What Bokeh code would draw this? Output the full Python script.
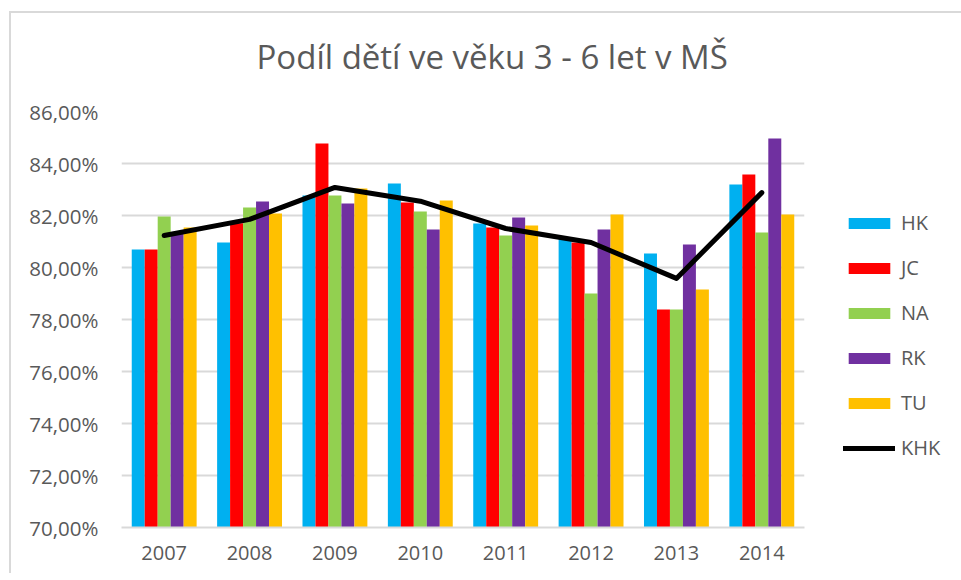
from bokeh.plotting import figure
from bokeh.models import (ColumnDataSource, FactorRange, Range1d, FixedTicker, Legend,
                          LegendItem, Title)
from bokeh.transform import dodge
from bokeh.embed import file_html
from bokeh.resources import INLINE

years = ["2007", "2008", "2009", "2010", "2011", "2012", "2013", "2014"]
HK = [80.69, 80.96, 82.77, 83.23, 81.69, 81.10, 80.54, 83.19]
JC = [80.69, 81.70, 84.77, 82.50, 81.54, 80.96, 78.38, 83.58]
NA = [81.96, 82.31, 82.77, 82.15, 81.23, 79.00, 78.38, 81.35]
RK = [81.30, 82.54, 82.46, 81.46, 81.92, 81.46, 80.88, 84.96]
TU = [81.54, 82.08, 83.04, 82.58, 81.62, 82.04, 79.15, 82.04]
KHK = [81.23, 81.85, 83.08, 82.55, 81.50, 80.96, 79.58, 82.88]
y_ticks = [70, 72, 74, 76, 78, 80, 82, 84, 86]
tick_labels = ["70,00%", "72,00%", "74,00%", "76,00%", "78,00%", "80,00%", "82,00%", "84,00%", "86,00%"]
series_names = ["HK", "JC", "NA", "RK", "TU"]
series_colors = ["#00B0F0", "#FF0000", "#92D050", "#7030A0", "#FFC000"]
title_text = "Podíl dětí ve věku 3 - 6 let v MŠ"

src = ColumnDataSource(dict(years=years, HK=HK, JC=JC, NA=NA, RK=RK, TU=TU, KHK=KHK))

FONT = "Open Sans"
GRAY = "#595959"
GRID = "#D9D9D9"

p = figure(x_range=FactorRange(*years, range_padding=0), y_range=Range1d(70, 86),
           frame_width=683, frame_height=416, output_backend="svg", toolbar_location=None,
           min_border_left=110, min_border_right=10, min_border_top=98, min_border_bottom=46)
p.styles = {"border-top": "2px solid #D9D9D9", "border-left": "2px solid #D9D9D9",
            "margin-top": "11px", "margin-left": "9px"}
p.outline_line_color = None
p.background_fill_color = "white"
p.border_fill_color = "white"

p.title.text = title_text
p.title.align = "left"
p.title.offset = 135
p.title.standoff = 30
p.title.text_font = FONT
p.title.text_font_size = "33px"
p.title.text_font_style = "normal"
p.title.text_color = GRAY

# spacer between title and plot area
p.add_layout(Title(text=" ", text_font_size="8px", standoff=7), "above")

bw = 0.152
offsets = [-2 * bw, -bw, 0, bw, 2 * bw]
renderers = []
for name, col, off in zip(series_names, series_colors, offsets):
    r = p.vbar(x=dodge("years", off, range=p.x_range), top=name, bottom=70, width=bw,
               source=src, fill_color=col, line_color=None)
    renderers.append(r)

line_r = p.line(x="years", y="KHK", source=src, line_color="black", line_width=5,
                line_cap="round", line_join="round")

# axes
p.yaxis.ticker = FixedTicker(ticks=y_ticks)
p.yaxis.major_label_overrides = {t: l for t, l in zip(y_ticks, tick_labels)}
p.yaxis.axis_line_color = None
p.yaxis.major_tick_line_color = None
p.yaxis.minor_tick_line_color = None
p.yaxis.major_label_text_font = FONT
p.yaxis.major_label_text_font_size = "20.5px"
p.yaxis.major_label_text_color = GRAY
p.yaxis.major_label_standoff = 17

p.xaxis.axis_line_color = GRID
p.xaxis.axis_line_width = 2
p.xaxis.major_tick_line_color = None
p.xaxis.minor_tick_line_color = None
p.xaxis.major_label_text_font = FONT
p.xaxis.major_label_text_font_size = "20px"
p.xaxis.major_label_text_color = GRAY
p.xaxis.major_label_standoff = 12

p.xgrid.grid_line_color = None
p.ygrid.grid_line_color = GRID
p.ygrid.grid_line_width = 2
p.ygrid.ticker = FixedTicker(ticks=y_ticks)

items = [LegendItem(label=n, renderers=[r]) for n, r in zip(series_names, renderers)]
items.append(LegendItem(label="KHK", renderers=[line_r]))
legend = Legend(items=items, location=(39, 66), orientation="vertical",
                glyph_width=52, glyph_height=14, label_standoff=6, spacing=18,
                padding=0, margin=0, border_line_color=None, background_fill_alpha=0,
                label_text_font=FONT, label_text_font_size="20px", label_text_color=GRAY)
p.add_layout(legend, "right")

open("out.html", "w").write(file_html(p, INLINE))
